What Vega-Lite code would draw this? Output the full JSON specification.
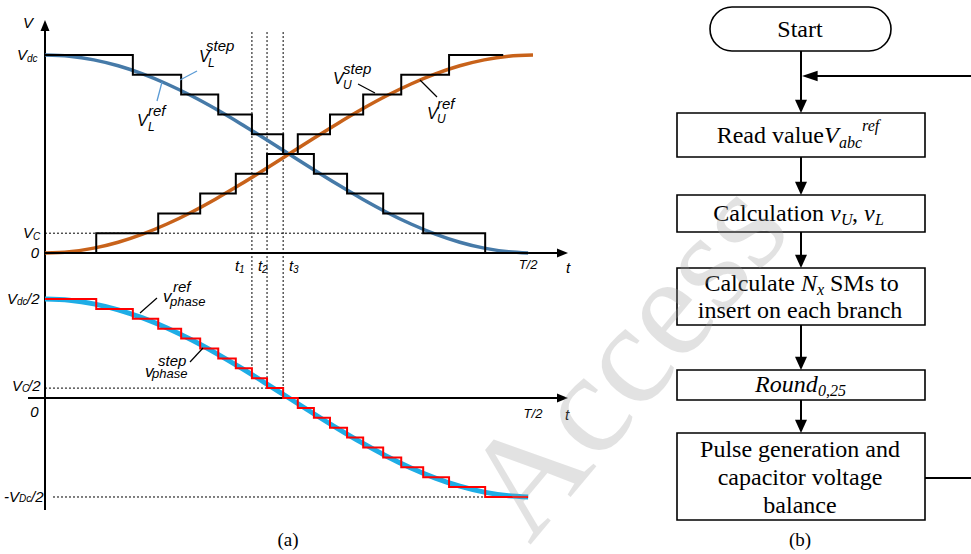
{
"$schema": "https://vega.github.io/schema/vega-lite/v6.json",
"padding": 0,
"autosize": {"type": "pad"},
"background": "white",
"spacing": 0,
"bounds": "flush",
"config": {"view": {"stroke": null}, "axis": {"disable": true}, "legend": {"disable": true}},
"hconcat": [
{
"width": 600, "height": 554,
"resolve": {"scale": {"y": "independent"}},
"layer": [
{
"encoding": {
 "x": {"field": "t", "type": "quantitative", "scale": {"domain": [-0.092213, 1.137295], "nice": false, "zero": false}, "axis": null},
 "y": {"field": "v", "type": "quantitative", "scale": {"domain": [-1.5202, 1.27778], "nice": false, "zero": false}, "axis": null}
},
"layer": [
 {"data": {"values": [
  {"t": 0, "v": 0.1, "t2": 0.775, "v2": 0.1},
  {"t": 0.424, "v": 1.116, "t2": 0.424, "v2": -0.13636},
  {"t": 0.455, "v": 1.116, "t2": 0.455, "v2": -0.13636},
  {"t": 0.488, "v": 1.116, "t2": 0.488, "v2": -0.13636}]},
  "mark": {"type": "rule", "color": "black", "strokeWidth": 1, "strokeDash": [2, 2]},
  "encoding": {"x2": {"field": "t2"}, "y2": {"field": "v2"}}},
 {"data": {"values": [
  {"t": 0, "v": -0.13636, "t2": 0, "v2": 1.15},
  {"t": 0, "v": 0, "t2": 1.055, "v2": 0}]},
  "mark": {"type": "rule", "color": "black", "strokeWidth": 2},
  "encoding": {"x2": {"field": "t2"}, "y2": {"field": "v2"}}},
 {"data": {"values": [{"t": 0, "v": 1.1768}]},
  "mark": {"type": "point", "shape": "M0,0L-0.9,2.2L0.9,2.2Z", "size": 100, "filled": true, "color": "black", "opacity": 1, "strokeWidth": 0}},
 {"data": {"values": [{"t": 1.0717, "v": 0}]},
  "mark": {"type": "point", "shape": "M0,0L-2.2,-0.9L-2.2,0.9Z", "size": 100, "filled": true, "color": "black", "opacity": 1, "strokeWidth": 0}},
 {"data": {"values": [
  {"t": 0, "v": 1}, {"t": 0.05, "v": 0.99384}, {"t": 0.1, "v": 0.97553}, {"t": 0.15, "v": 0.9455}, {"t": 0.2, "v": 0.90451},
  {"t": 0.25, "v": 0.85355}, {"t": 0.3, "v": 0.79389}, {"t": 0.35, "v": 0.727}, {"t": 0.4, "v": 0.65451}, {"t": 0.45, "v": 0.57822},
  {"t": 0.5, "v": 0.5}, {"t": 0.55, "v": 0.42178}, {"t": 0.6, "v": 0.34549}, {"t": 0.65, "v": 0.273}, {"t": 0.7, "v": 0.20611},
  {"t": 0.75, "v": 0.14645}, {"t": 0.8, "v": 0.09549}, {"t": 0.85, "v": 0.0545}, {"t": 0.9, "v": 0.02447}, {"t": 0.95, "v": 0.00616}, {"t": 0.99, "v": 0.00025}]},
  "mark": {"type": "line", "interpolate": "monotone", "color": "#467AA8", "strokeWidth": 3.5}},
 {"data": {"values": [
  {"t": 0, "v": 0}, {"t": 0.05, "v": 0.00616}, {"t": 0.1, "v": 0.02447}, {"t": 0.15, "v": 0.0545}, {"t": 0.2, "v": 0.09549},
  {"t": 0.25, "v": 0.14645}, {"t": 0.3, "v": 0.20611}, {"t": 0.35, "v": 0.273}, {"t": 0.4, "v": 0.34549}, {"t": 0.45, "v": 0.42178},
  {"t": 0.5, "v": 0.5}, {"t": 0.55, "v": 0.57822}, {"t": 0.6, "v": 0.65451}, {"t": 0.65, "v": 0.727}, {"t": 0.7, "v": 0.79389},
  {"t": 0.75, "v": 0.85355}, {"t": 0.8, "v": 0.90451}, {"t": 0.85, "v": 0.9455}, {"t": 0.9, "v": 0.97553}, {"t": 0.95, "v": 0.99384}, {"t": 1.0, "v": 1}]},
  "mark": {"type": "line", "interpolate": "monotone", "color": "#C8621A", "strokeWidth": 3.5}},
 {"data": {"values": [
  {"s": "L", "t": 0, "v": 1}, {"s": "L", "t": 0.18, "v": 0.9}, {"s": "L", "t": 0.279, "v": 0.8}, {"s": "L", "t": 0.355, "v": 0.7},
  {"s": "L", "t": 0.424, "v": 0.6}, {"s": "L", "t": 0.488, "v": 0.5}, {"s": "L", "t": 0.551, "v": 0.4}, {"s": "L", "t": 0.619, "v": 0.3},
  {"s": "L", "t": 0.693, "v": 0.2}, {"s": "L", "t": 0.775, "v": 0.1}, {"s": "L", "t": 0.902, "v": 0}, {"s": "L", "t": 0.99, "v": 0},
  {"s": "U", "t": 0, "v": 0}, {"s": "U", "t": 0.105, "v": 0.1}, {"s": "U", "t": 0.232, "v": 0.2}, {"s": "U", "t": 0.318, "v": 0.3},
  {"s": "U", "t": 0.391, "v": 0.4}, {"s": "U", "t": 0.455, "v": 0.5}, {"s": "U", "t": 0.518, "v": 0.6}, {"s": "U", "t": 0.584, "v": 0.7},
  {"s": "U", "t": 0.652, "v": 0.8}, {"s": "U", "t": 0.73, "v": 0.9}, {"s": "U", "t": 0.828, "v": 1}, {"s": "U", "t": 0.939, "v": 1}]},
  "mark": {"type": "line", "interpolate": "step-after", "color": "black", "strokeWidth": 2},
  "encoding": {"detail": {"field": "s"}}},
 {"data": {"values": [
  {"t": 0.2766, "v": 0.8737, "t2": 0.3115, "v2": 0.9192},
  {"t": 0.2295, "v": 0.7677, "t2": 0.2398, "v2": 0.8636}]},
  "mark": {"type": "rule", "color": "#5B9BD5", "strokeWidth": 1.3},
  "encoding": {"x2": {"field": "t2"}, "y2": {"field": "v2"}}},
 {"data": {"values": [
  {"t": 0.6414, "v": 0.8535, "t2": 0.6762, "v2": 0.8081},
  {"t": 0.7684, "v": 0.8737, "t2": 0.8033, "v2": 0.7879}]},
  "mark": {"type": "rule", "color": "black", "strokeWidth": 1.2},
  "encoding": {"x2": {"field": "t2"}, "y2": {"field": "v2"}}},
 {"data": {"values": [{"t": -0.0369, "v": 1.0, "label": "V"}, {"t": -0.0246, "v": 0.1, "label": "V"}]},
  "mark": {"type": "text", "align": "right", "baseline": "middle", "fontSize": 15, "fontStyle": "italic", "font": "Liberation Sans"},
  "encoding": {"text": {"field": "label"}}},
 {"data": {"values": [{"t": -0.0369, "v": 0.9798, "label": "dc"}, {"t": -0.0246, "v": 0.0808, "label": "C"}]},
  "mark": {"type": "text", "align": "left", "baseline": "middle", "fontSize": 10, "fontStyle": "italic", "font": "Liberation Sans"},
  "encoding": {"text": {"field": "label"}}},
 {"data": {"values": [
  {"t": -0.0348, "v": 1.1616, "label": "V"}, {"t": -0.0205, "v": 0, "label": "0"},
  {"t": 0.3934, "v": -0.0657, "label": "t"}, {"t": 0.4406, "v": -0.0657, "label": "t"}, {"t": 0.5041, "v": -0.0657, "label": "t"},
  {"t": 1.0717, "v": -0.0758, "label": "t"}]},
  "mark": {"type": "text", "align": "center", "baseline": "middle", "fontSize": 15, "fontStyle": "italic", "font": "Liberation Sans"},
  "encoding": {"text": {"field": "label"}}},
 {"data": {"values": [{"t": 0.3975, "v": -0.0859, "label": "1"}, {"t": 0.4447, "v": -0.0859, "label": "2"}, {"t": 0.5082, "v": -0.0859, "label": "3"}]},
  "mark": {"type": "text", "align": "left", "baseline": "middle", "fontSize": 10, "fontStyle": "italic", "font": "Liberation Sans"},
  "encoding": {"text": {"field": "label"}}},
 {"data": {"values": [{"t": 0.9898, "v": -0.0606, "label": "T/2"}]},
  "mark": {"type": "text", "align": "center", "baseline": "middle", "fontSize": 13, "fontStyle": "italic", "font": "Liberation Sans"},
  "encoding": {"text": {"field": "label"}}},
 {"data": {"values": [{"t": 0.3156, "v": 0.9899, "label": "V"}, {"t": 0.1885, "v": 0.6667, "label": "V"}, {"t": 0.5902, "v": 0.8788, "label": "V"}, {"t": 0.7828, "v": 0.702, "label": "V"}]},
  "mark": {"type": "text", "align": "left", "baseline": "middle", "fontSize": 16, "fontStyle": "italic", "font": "Liberation Sans"},
  "encoding": {"text": {"field": "label"}}},
 {"data": {"values": [{"t": 0.334, "v": 0.9596, "label": "L"}, {"t": 0.2111, "v": 0.6364, "label": "L"}, {"t": 0.6107, "v": 0.8485, "label": "U"}, {"t": 0.8033, "v": 0.6768, "label": "U"}]},
  "mark": {"type": "text", "align": "left", "baseline": "middle", "fontSize": 12, "fontStyle": "italic", "font": "Liberation Sans"},
  "encoding": {"text": {"field": "label"}}},
 {"data": {"values": [{"t": 0.3299, "v": 1.0455, "label": "step"}, {"t": 0.2111, "v": 0.7172, "label": "ref"}, {"t": 0.6107, "v": 0.9293, "label": "step"}, {"t": 0.8033, "v": 0.7525, "label": "ref"}]},
  "mark": {"type": "text", "align": "left", "baseline": "middle", "fontSize": 15, "fontStyle": "italic", "font": "Liberation Sans"},
  "encoding": {"text": {"field": "label"}}}
]
},
{
"encoding": {
 "x": {"field": "t", "type": "quantitative", "scale": {"domain": [-0.092213, 1.137295], "nice": false, "zero": false}, "axis": null},
 "y": {"field": "v", "type": "quantitative", "scale": {"domain": [-0.78788, 2.0101], "nice": false, "zero": false}, "axis": null}
},
"layer": [
 {"data": {"values": [
  {"t": 0, "v": 0.05, "t2": 0.488, "v2": 0.05},
  {"t": 0.0164, "v": -0.5, "t2": 0.902, "v2": -0.5},
  {"t": 0.424, "v": 0.59596, "t2": 0.424, "v2": 0.15},
  {"t": 0.455, "v": 0.59596, "t2": 0.455, "v2": 0.1},
  {"t": 0.488, "v": 0.59596, "t2": 0.488, "v2": 0.05}]},
  "mark": {"type": "rule", "color": "black", "strokeWidth": 1, "strokeDash": [2, 2]},
  "encoding": {"x2": {"field": "t2"}, "y2": {"field": "v2"}}},
 {"data": {"values": [
  {"t": 0, "v": 0.59596, "t2": 0, "v2": -0.5657},
  {"t": -0.0348, "v": 0, "t2": 1.055, "v2": 0}]},
  "mark": {"type": "rule", "color": "black", "strokeWidth": 2},
  "encoding": {"x2": {"field": "t2"}, "y2": {"field": "v2"}}},
 {"data": {"values": [{"t": 1.0717, "v": 0}]},
  "mark": {"type": "point", "shape": "M0,0L-2.2,-0.9L-2.2,0.9Z", "size": 100, "filled": true, "color": "black", "opacity": 1, "strokeWidth": 0}},
 {"data": {"values": [
  {"t": 0, "v": 0.5}, {"t": 0.05, "v": 0.49384}, {"t": 0.1, "v": 0.47553}, {"t": 0.15, "v": 0.4455}, {"t": 0.2, "v": 0.40451},
  {"t": 0.25, "v": 0.35355}, {"t": 0.3, "v": 0.29389}, {"t": 0.35, "v": 0.227}, {"t": 0.4, "v": 0.15451}, {"t": 0.45, "v": 0.07822},
  {"t": 0.5, "v": 0}, {"t": 0.55, "v": -0.07822}, {"t": 0.6, "v": -0.15451}, {"t": 0.65, "v": -0.227}, {"t": 0.7, "v": -0.29389},
  {"t": 0.75, "v": -0.35355}, {"t": 0.8, "v": -0.40451}, {"t": 0.85, "v": -0.4455}, {"t": 0.9, "v": -0.47553}, {"t": 0.95, "v": -0.49384}, {"t": 0.99, "v": -0.49975}]},
  "mark": {"type": "line", "interpolate": "monotone", "color": "#1EADE6", "strokeWidth": 5}},
 {"data": {"values": [
  {"t": 0, "v": 0.5}, {"t": 0.105, "v": 0.45}, {"t": 0.18, "v": 0.4}, {"t": 0.232, "v": 0.35}, {"t": 0.279, "v": 0.3},
  {"t": 0.318, "v": 0.25}, {"t": 0.355, "v": 0.2}, {"t": 0.391, "v": 0.15}, {"t": 0.424, "v": 0.1}, {"t": 0.455, "v": 0.05},
  {"t": 0.488, "v": 0}, {"t": 0.518, "v": -0.05}, {"t": 0.551, "v": -0.1}, {"t": 0.584, "v": -0.15}, {"t": 0.619, "v": -0.2},
  {"t": 0.652, "v": -0.25}, {"t": 0.693, "v": -0.3}, {"t": 0.73, "v": -0.35}, {"t": 0.775, "v": -0.4}, {"t": 0.828, "v": -0.45},
  {"t": 0.902, "v": -0.5}, {"t": 0.99, "v": -0.5}]},
  "mark": {"type": "line", "interpolate": "step-after", "color": "#FF0000", "strokeWidth": 2}},
 {"data": {"values": [
  {"t": 0.1947, "v": 0.4293, "t2": 0.2295, "v2": 0.5051},
  {"t": 0.2971, "v": 0.1818, "t2": 0.3238, "v2": 0.2525}]},
  "mark": {"type": "rule", "color": "black", "strokeWidth": 1.2},
  "encoding": {"x2": {"field": "t2"}, "y2": {"field": "v2"}}},
 {"data": {"values": [{"t": -0.0574, "v": 0.5, "label": "V"}, {"t": -0.0471, "v": 0.0606, "label": "V"}, {"t": -0.0533, "v": -0.5, "label": "V"}]},
  "mark": {"type": "text", "align": "right", "baseline": "middle", "fontSize": 15, "fontStyle": "italic", "font": "Liberation Sans"},
  "encoding": {"text": {"field": "label"}}},
 {"data": {"values": [{"t": -0.0574, "v": 0.4848, "label": "dc"}, {"t": -0.0471, "v": 0.0455, "label": "C"}, {"t": -0.0533, "v": -0.5101, "label": "Dc"}]},
  "mark": {"type": "text", "align": "left", "baseline": "middle", "fontSize": 10, "fontStyle": "italic", "font": "Liberation Sans"},
  "encoding": {"text": {"field": "label"}}},
 {"data": {"values": [{"t": -0.0369, "v": 0.5, "label": "/2"}, {"t": -0.0348, "v": 0.0606, "label": "/2"}, {"t": -0.0287, "v": -0.5, "label": "/2"}, {"t": -0.084, "v": -0.5, "label": "-"}]},
  "mark": {"type": "text", "align": "left", "baseline": "middle", "fontSize": 15, "fontStyle": "italic", "font": "Liberation Sans"},
  "encoding": {"text": {"field": "label"}}},
 {"data": {"values": [{"t": -0.0215, "v": -0.0707, "label": "0"}, {"t": 1.0697, "v": -0.0859, "label": "t"}]},
  "mark": {"type": "text", "align": "center", "baseline": "middle", "fontSize": 15, "fontStyle": "italic", "font": "Liberation Sans"},
  "encoding": {"text": {"field": "label"}}},
 {"data": {"values": [{"t": 1.0, "v": -0.0808, "label": "T/2"}]},
  "mark": {"type": "text", "align": "center", "baseline": "middle", "fontSize": 13, "fontStyle": "italic", "font": "Liberation Sans"},
  "encoding": {"text": {"field": "label"}}},
 {"data": {"values": [{"t": 0.2418, "v": 0.5101, "label": "v"}, {"t": 0.2049, "v": 0.1313, "label": "v"}]},
  "mark": {"type": "text", "align": "left", "baseline": "middle", "fontSize": 17, "fontStyle": "italic", "font": "Liberation Sans"},
  "encoding": {"text": {"field": "label"}}},
 {"data": {"values": [{"t": 0.2623, "v": 0.5606, "label": "ref"}, {"t": 0.2316, "v": 0.1869, "label": "step"}]},
  "mark": {"type": "text", "align": "left", "baseline": "middle", "fontSize": 15, "fontStyle": "italic", "font": "Liberation Sans"},
  "encoding": {"text": {"field": "label"}}},
 {"data": {"values": [{"t": 0.2561, "v": 0.4848, "label": "phase"}, {"t": 0.2193, "v": 0.1212, "label": "phase"}]},
  "mark": {"type": "text", "align": "left", "baseline": "middle", "fontSize": 13, "fontStyle": "italic", "font": "Liberation Sans"},
  "encoding": {"text": {"field": "label"}}},
 {"data": {"values": [{"t": 0.498, "v": -0.7172, "label": "(a)"}]},
  "mark": {"type": "text", "align": "center", "baseline": "middle", "fontSize": 19, "font": "Liberation Serif"},
  "encoding": {"text": {"field": "label"}}}
]
}
]
},
{
"width": 371, "height": 554,
"encoding": {
 "x": {"field": "x", "type": "quantitative", "scale": {"domain": [-200, 171], "nice": false, "zero": false}, "axis": null},
 "y": {"field": "y", "type": "quantitative", "scale": {"domain": [0, 554], "nice": false, "zero": false, "reverse": true}, "axis": null}
},
"layer": [
 {"data": {"values": [{"x": -90, "x2": 91, "y": 7, "y2": 51}]},
  "mark": {"type": "rect", "fill": "white", "stroke": "black", "strokeWidth": 1.6, "cornerRadius": 22},
  "encoding": {"x2": {"field": "x2"}, "y2": {"field": "y2"}}},
 {"data": {"values": [
  {"x": -123, "x2": 125, "y": 113, "y2": 157},
  {"x": -123, "x2": 125, "y": 195, "y2": 232},
  {"x": -123, "x2": 125, "y": 268, "y2": 325},
  {"x": -123, "x2": 125, "y": 370, "y2": 400},
  {"x": -123, "x2": 125, "y": 433, "y2": 520}]},
  "mark": {"type": "rect", "fill": "white", "stroke": "black", "strokeWidth": 1.6},
  "encoding": {"x2": {"field": "x2"}, "y2": {"field": "y2"}}},
 {"data": {"values": [
  {"x": 1, "y": 51, "x2": 1, "y2": 105},
  {"x": 1, "y": 157, "x2": 1, "y2": 188},
  {"x": 1, "y": 232, "x2": 1, "y2": 260},
  {"x": 1, "y": 325, "x2": 1, "y2": 362},
  {"x": 1, "y": 400, "x2": 1, "y2": 425},
  {"x": 171, "y": 76, "x2": 10, "y2": 76},
  {"x": 125, "y": 478, "x2": 171, "y2": 478}]},
  "mark": {"type": "rule", "color": "black", "strokeWidth": 2},
  "encoding": {"x2": {"field": "x2"}, "y2": {"field": "y2"}}},
 {"data": {"values": [{"x": 1, "y": 113}, {"x": 1, "y": 195}, {"x": 1, "y": 268}, {"x": 1, "y": 370}, {"x": 1, "y": 433}]},
  "mark": {"type": "point", "shape": "M0,0L-0.9,-2L0.9,-2Z", "size": 178, "filled": true, "color": "black", "opacity": 1, "strokeWidth": 0}},
 {"data": {"values": [{"x": 2, "y": 76}]},
  "mark": {"type": "point", "shape": "M0,0L2.4,-0.8L2.4,0.8Z", "size": 169, "filled": true, "color": "black", "opacity": 1, "strokeWidth": 0}},
 {"data": {"values": [
  {"x": 0, "y": 30, "label": "Start"},
  {"x": 0, "y": 311, "label": "insert on each branch"},
  {"x": 0, "y": 450, "label": "Pulse generation and"},
  {"x": 0, "y": 478, "label": "capacitor voltage"},
  {"x": 0, "y": 506, "label": "balance"}]},
  "mark": {"type": "text", "align": "center", "baseline": "middle", "fontSize": 24, "font": "Liberation Serif"},
  "encoding": {"text": {"field": "label"}}},
 {"data": {"values": [
  {"x": 24, "y": 136, "label": "Read value"},
  {"x": 24, "y": 214, "label": "Calculation"},
  {"x": -5, "y": 284, "label": "Calculate"}]},
  "mark": {"type": "text", "align": "right", "baseline": "middle", "fontSize": 24, "font": "Liberation Serif"},
  "encoding": {"text": {"field": "label"}}},
 {"data": {"values": [
  {"x": 30, "y": 284, "label": "SMs to"},
  {"x": 52, "y": 214, "label": ","}]},
  "mark": {"type": "text", "align": "left", "baseline": "middle", "fontSize": 24, "font": "Liberation Serif"},
  "encoding": {"text": {"field": "label"}}},
 {"data": {"values": [
  {"x": 24, "y": 136, "label": "V"},
  {"x": 30, "y": 214, "label": "v"},
  {"x": 64, "y": 214, "label": "v"},
  {"x": 1, "y": 284, "label": "N"},
  {"x": -45, "y": 385, "label": "Round"}]},
  "mark": {"type": "text", "align": "left", "baseline": "middle", "fontSize": 24, "fontStyle": "italic", "font": "Liberation Serif"},
  "encoding": {"text": {"field": "label"}}},
 {"data": {"values": [
  {"x": 39, "y": 143, "label": "abc"},
  {"x": 41, "y": 220, "label": "U"},
  {"x": 75, "y": 220, "label": "L"},
  {"x": 17, "y": 290, "label": "x"},
  {"x": 18, "y": 391, "label": "0,25"},
  {"x": 62, "y": 126, "label": "ref"}]},
  "mark": {"type": "text", "align": "left", "baseline": "middle", "fontSize": 16, "fontStyle": "italic", "font": "Liberation Serif"},
  "encoding": {"text": {"field": "label"}}},
 {"data": {"values": [{"x": 0, "y": 540, "label": "(b)"}]},
  "mark": {"type": "text", "align": "center", "baseline": "middle", "fontSize": 19, "font": "Liberation Serif"},
  "encoding": {"text": {"field": "label"}}},
 {"data": {"values": [{"x": -172, "y": 360, "label": "Access"}]},
  "mark": {"type": "text", "align": "center", "baseline": "middle", "fontSize": 145, "angle": 310, "font": "Liberation Serif", "color": "#9a9a9a", "opacity": 0.28},
  "encoding": {"text": {"field": "label"}}}
]
}
]
}
